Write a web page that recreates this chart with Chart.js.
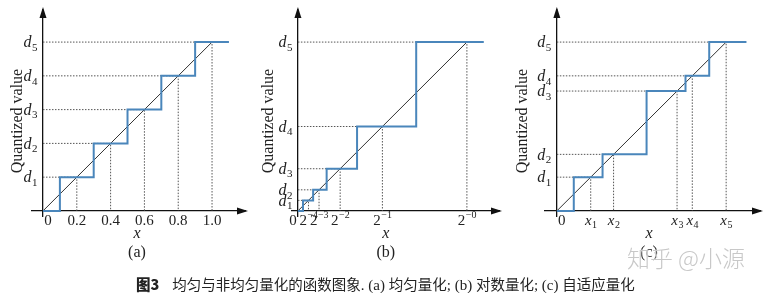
<!DOCTYPE html>
<html>
<head>
<meta charset="utf-8">
<script src="https://cdn.jsdelivr.net/npm/chart.js@4/dist/chart.umd.min.js"></script>
<style>
  html, body { margin: 0; padding: 0; background: #fff; }
  #wrap { position: relative; width: 767px; height: 293px; overflow: hidden; }
  #wrap canvas { position: absolute; left: 0; top: 0; }
  .caption { position: absolute; left: 136px; top: 273px; font: 14.5px "Noto Sans CJK SC", sans-serif; color: #222; white-space: nowrap; }
  .caption b { font-family: "Noto Sans CJK SC", sans-serif; font-weight: 900; margin-right: 13px; }
  .caption i { font-style: normal; font-family: "Liberation Serif", serif; font-size: 15px; }
  .mark { position: absolute; left: 627px; top: 240px; font: 300 23px "Noto Sans CJK SC", sans-serif; color: #c8c8c8; white-space: nowrap;
          text-shadow: 0 0 2px #fff, 0 0 2px #fff; }
  .warm { position: absolute; left: -999px; font-family: "Liberation Serif"; }
</style>
</head>
<body>
<div id="wrap">
  <canvas id="ca" width="767" height="293"></canvas>
  <canvas id="cb" width="767" height="293"></canvas>
  <canvas id="cc" width="767" height="293"></canvas>
  <div class="caption"><b>图3</b>均匀与非均匀量化的函数图象<i>. (a) </i>均匀量化<i>; (b) </i>对数量化<i>; (c) </i>自适应量化</div>
  <div class="mark">知乎 @小源</div>
  <div class="warm">Quantized value <i>d x</i></div>
</div>
<script>
"use strict";
// (a) uniform quantisation
var levelsA = [0.2, 0.4, 0.6, 0.8, 1.0];
var stepsA = [0.1, 0.3, 0.5, 0.7, 0.9, 1.1];
var xTicksA = [0, 0.2, 0.4, 0.6, 0.8, 1.0];
var xLabelsA = ["0", "0.2", "0.4", "0.6", "0.8", "1.0"];
// (b) log quantisation
var levelsB = [0.0625, 0.125, 0.25, 0.5, 1.0];
var stepsB = [0.03, 0.09, 0.17, 0.35, 0.70, 1.1];
var xTicksB = [0, 0.0625, 0.125, 0.25, 0.5, 1.0];
var xLabelsB = ["0", "2^-4", "2^-3", "2^-2", "2^-1", "2^-0"];
// (c) adaptive quantisation
var levelsC = [0.2, 0.335, 0.71, 0.8, 1.0];
var stepsC = [0.10, 0.27, 0.53, 0.76, 0.90, 1.12];
var xTicksC = [0, 0.2, 0.335, 0.71, 0.8, 1.0];
var xLabelsC = ["0", "x_1", "x_2", "x_3", "x_4", "x_5"];
var yLabels = ["d_1", "d_2", "d_3", "d_4", "d_5"];

var SERIF = "'Liberation Serif', 'DejaVu Serif', serif";
var BLUE = "#4a86bb";

// draws "d_1" / "2^-4" style text, base + small script
function drawRich(ctx, str, x, y, align, size, italicBase) {
    var base = str, sub = "", sup = "";
    if (str.indexOf("_") > 0) { base = str.split("_")[0]; sub = str.split("_")[1]; }
    if (str.indexOf("^") > 0) { base = str.split("^")[0]; sup = str.split("^")[1].replace("-", "\u2212"); }
    var bf = (italicBase ? "italic " : "") + size + "px " + SERIF;
    var sf = Math.round(size * 0.66) + "px " + SERIF;
    ctx.font = bf; var wb = ctx.measureText(base).width;
    ctx.font = sf; var ws = ctx.measureText(sub + sup).width;
    var w = wb + ws;
    var x0 = align == "right" ? x - w : (align == "center" ? x - w / 2 : x);
    ctx.textBaseline = "middle"; ctx.textAlign = "left";
    ctx.font = bf; ctx.fillText(base, x0, y);
    ctx.font = sf;
    if (sub) ctx.fillText(sub, x0 + wb + 0.5, y + size * 0.3);
    if (sup) ctx.fillText(sup, x0 + wb + 0.5, y - size * 0.38);
}

var labelPlugin = {
    id: "quantLabels",
    afterDraw: function(chart) {
        var p = chart.options.plugins.quantLabels;
        var ctx = chart.ctx, xs = chart.scales.x, ys = chart.scales.y;
        var ox = xs.getPixelForValue(0), oy = ys.getPixelForValue(0);
        var right = chart.chartArea.right, top = chart.chartArea.top;
        ctx.save();
        ctx.fillStyle = "#111";
        // arrow heads
        ctx.beginPath();
        ctx.moveTo(right + 3, oy); ctx.lineTo(right - 8, oy - 3.5); ctx.lineTo(right - 8, oy + 3.5); ctx.closePath(); ctx.fill();
        ctx.beginPath();
        ctx.moveTo(ox, top - 3); ctx.lineTo(ox - 3.5, top + 8); ctx.lineTo(ox + 3.5, top + 8); ctx.closePath(); ctx.fill();
        ctx.fillStyle = "#222";
        // y tick labels
        p.levels.forEach(function(v, i) {
            drawRich(ctx, yLabels[i], ox - 6, ys.getPixelForValue(v) + 1, "right", 16, true);
        });
        // x tick labels
        p.xTicks.forEach(function(v, i) {
            var px = xs.getPixelForValue(v) + (i == 0 ? p.zeroShift : 0);
            drawRich(ctx, p.xLabels[i], px, oy + 10, "center", 15, p.italicX && i > 0);
        });
        ctx.textAlign = "center"; ctx.textBaseline = "middle";
        ctx.font = "italic 16px " + SERIF;
        ctx.fillText("x", xs.getPixelForValue(p.axisTitleX), oy + 23);
        ctx.font = "16px " + SERIF;
        ctx.fillText(p.panel, xs.getPixelForValue(p.axisTitleX), 253);
        ctx.translate(p.yTitleLeft, 121);
        ctx.rotate(-Math.PI / 2);
        ctx.font = "16px " + SERIF;
        ctx.fillText("Quantized value", 0, 0);
        ctx.restore();
    }
};

function makePanel(id, levels, steps, xTicks, xLabels, opt) {
    var stepData = [{x: 0, y: 0}];
    steps.forEach(function(s, i) {
        stepData.push({x: s, y: levels[Math.min(i, levels.length - 1)]});
    });
    var guides = [];
    levels.forEach(function(d, i) {
        var xv = xTicks[i + 1];
        guides.push({x: 0, y: d}, {x: xv, y: d}, {x: xv, y: 0}, {x: xv, y: null});
    });
    new Chart(document.getElementById(id).getContext("2d"), {
        type: "line",
        data: {
            datasets: [{
                data: stepData,
                stepped: true,
                borderColor: BLUE,
                borderWidth: 2,
                pointRadius: 0
            }, {
                data: [{x: 0, y: 0}, {x: 1, y: 1}],
                borderColor: "#333",
                borderWidth: 1,
                pointRadius: 0
            }, {
                data: guides,
                borderColor: "#555",
                borderWidth: 1,
                borderDash: [1.5, 1.5],
                pointRadius: 0,
                spanGaps: false
            }]
        },
        options: {
            responsive: false,
            animation: false,
            events: [],
            layout: {padding: opt.padding},
            plugins: {
                legend: {display: false},
                tooltip: {enabled: false},
                quantLabels: {
                    levels: levels, xTicks: xTicks, xLabels: xLabels,
                    zeroShift: opt.zeroShift, italicX: opt.italicX,
                    axisTitleX: opt.axisTitleX, panel: opt.panel, yTitleLeft: opt.yTitleLeft
                }
            },
            scales: {
                x: {
                    type: "linear", min: opt.xMin, max: opt.xMax,
                    position: {y: 0},
                    grid: {display: false, drawTicks: false},
                    border: {display: true, color: "#111", width: 1.3},
                    ticks: {display: false},
                    afterFit: function(s) { s.height = 0; }
                },
                y: {
                    type: "linear", min: -0.03, max: 1.19,
                    position: {x: 0},
                    grid: {display: false, drawTicks: false},
                    border: {display: true, color: "#111", width: 1.3},
                    ticks: {display: false},
                    afterFit: function(s) { s.width = 0; }
                }
            }
        },
        plugins: [labelPlugin]
    });
}

function drawAll() {
    makePanel("ca", levelsA, stepsA, xTicksA, xLabelsA, {
        padding: {left: 32, right: 522, top: 10, bottom: 77},
        xMin: -0.065, xMax: 1.195, zeroShift: 5, italicX: false,
        axisTitleX: 0.556, panel: "(a)", yTitleLeft: 18
    });
    makePanel("cb", levelsB, stepsB, xTicksB, xLabelsB, {
        padding: {left: 292, right: 268, top: 10, bottom: 77},
        xMin: -0.035, xMax: 1.19, zeroShift: -5, italicX: false,
        axisTitleX: 0.52, panel: "(b)", yTitleLeft: 269
    });
    makePanel("cc", levelsC, stepsC, xTicksC, xLabelsC, {
        padding: {left: 545, right: 7, top: 10, bottom: 77},
        xMin: -0.07, xMax: 1.2, zeroShift: 5, italicX: true,
        axisTitleX: 0.544, panel: "(c)", yTitleLeft: 523
    });
}

Promise.all([
    document.fonts.load("16px 'Liberation Serif'"),
    document.fonts.load("italic 16px 'Liberation Serif'")
]).then(drawAll, drawAll);
</script>
</body>
</html>
